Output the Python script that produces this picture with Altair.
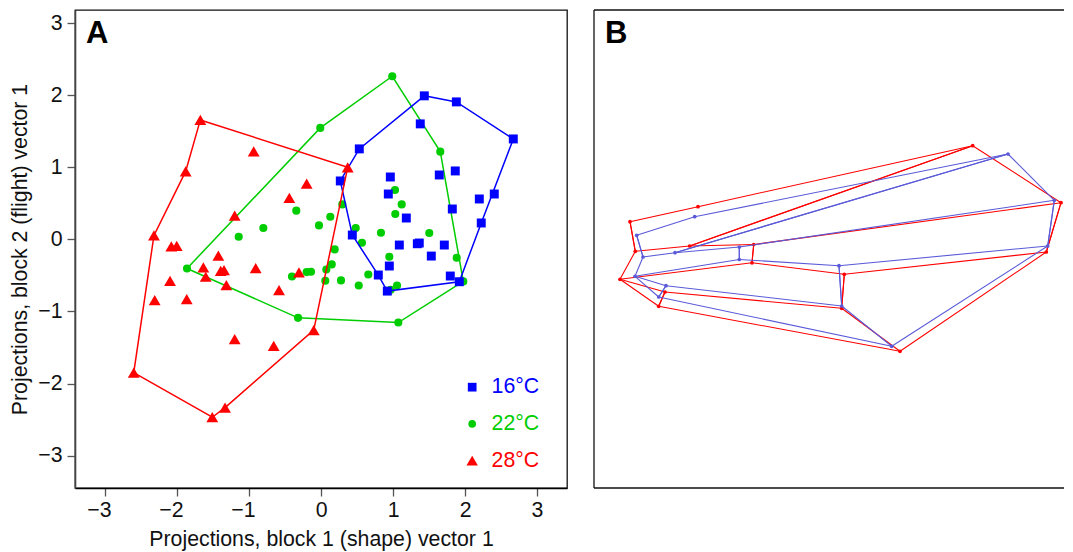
import altair as alt
import pandas as pd

FONT = "Liberation Sans"
BLUE, GREEN, RED = "#0000ff", "#00cd00", "#ff0000"
WING_BLUE = "#5a5ad8"

# ---- Panel A: projections per temperature ----
blue_x = [1.435, 1.88, 2.671, 1.379, 0.532, 0.963, 1.865, 1.643, 0.268, 0.935, 2.407, 2.199, 1.185, 1.824, 2.226,
          0.435, 1.088, 1.365, 1.338, 1.713, 1.532, 0.949, 0.796, 1.796, 1.921, 0.921]
blue_y = [1.992, 1.908, 1.394, 1.603, 1.256, 0.866, 0.95, 0.894, 0.811, 0.63, 0.63, 0.561, 0.297, 0.422, 0.228,
          0.061, -0.078, -0.05, -0.06, -0.078, -0.231, -0.369, -0.494, -0.508, -0.587, -0.717]
blue_hull_x = [1.435, 1.88, 2.671, 2.226, 1.921, 0.921, 0.796, 0.435, 0.268, 0.532, 1.435]
blue_hull_y = [1.992, 1.908, 1.394, 0.228, -0.587, -0.717, -0.494, 0.061, 0.811, 1.256, 1.992]

green_x = [0.99, -0.01, 1.657, 1.028, 1.121, 0.296, 1.032, 0.129, -0.028, 0.482, 0.833, 1.504, 0.569, 0.19, 0.949,
           1.885, 0.149, 0.074, -0.199, -0.139, 0.06, 0.278, 0.657, 0.524, 1.056, 0.968, 1.976, 1.074, -0.343,
           -0.801, -1.143, -1.861, -0.403, -0.319]
green_y = [2.264, 1.547, 1.218, 0.686, 0.486, 0.486, 0.353, 0.315, 0.194, 0.158, 0.093, 0.089, -0.046, -0.139, -0.24,
           -0.254, -0.347, -0.417, -0.453, -0.449, -0.574, -0.569, -0.486, -0.639, -0.639, -0.699, -0.583, -1.153,
           0.399, 0.158, 0.037, -0.403, -0.514, -1.088]
green_hull_x = [-1.861, -0.01, 0.99, 1.657, 1.976, 1.074, -0.319, -1.861]
green_hull_y = [-0.403, 1.547, 2.264, 1.218, -0.583, -1.153, -1.088, -0.403]

red_x = [-1.676, -1.88, -0.935, -0.199, -0.44, -1.199, -2.32, -2.079, -2.004, -1.426, -1.634, -1.393, -1.347, -1.601,
         -0.907, -0.306, -1.315, -2.097, -0.583, -2.31, -1.865, -0.101, -1.199, -0.657, -2.601, -1.333, -1.51, 0.371]
red_y = [1.658, 0.944, 1.222, 0.774, 0.575, 0.329, 0.056, -0.097, -0.088, -0.226, -0.389, -0.435, -0.425, -0.518,
         -0.397, -0.458, -0.633, -0.574, -0.703, -0.842, -0.828, -1.258, -1.383, -1.476, -1.847, -2.333, -2.467, 1.0]
red_hull_x = [-1.676, 0.371, -0.101, -1.333, -1.51, -2.601, -2.32, -1.88, -1.676]
red_hull_y = [1.658, 1.0, -1.258, -2.333, -2.467, -1.847, 0.056, 0.944, 1.658]

legend_labels = ["16°C", "22°C", "28°C"]
legend_y = [-2.05, -2.56, -3.07]
legend_marker_x = 2.1
legend_text_x = 3.03
tick_values = [-3, -2, -1, 0, 1, 2, 3]

# ---- Panel B: wing landmarks (panel units) ----
red_lm_x = [36, 104, 378.7, 467, 452.3, 306, 64.7, 26, 41.3, 95.7, 159.7, 158, 250.3, 247.7, 71]
red_lm_y = [266.3, 281.3, 342.3, 285.3, 236, 136.7, 181.7, 208.7, 236.7, 242, 243.5, 225.2, 213.7, 179.7, 196]
blue_lm_x = [42.7, 100.7, 414, 460.3, 453.7, 297.7, 64.7, 41, 49, 81, 145.3, 145.3, 245, 247.7, 72]
blue_lm_y = [252.7, 271.3, 334, 287.7, 242, 141.7, 191, 211.7, 231, 235.3, 241, 228.5, 222.3, 182, 202.3]
edges = [(0, 1), (1, 2), (2, 3), (3, 4), (4, 5), (5, 6), (6, 7), (7, 8), (8, 0),
         (2, 9), (2, 9), (8, 9), (9, 10), (10, 3), (7, 11), (11, 12), (12, 4),
         (7, 14), (14, 13), (13, 5), (10, 11), (10, 11), (12, 13), (12, 13),
         (14, 6), (14, 6), (0, 8), (3, 4)]

W_A, H, W_B = 492, 478, 470
TEXT_SIZE = 21.3
x_a = alt.Scale(domain=[-3.417, 3.417], nice=False, zero=False)
y_a = alt.Scale(domain=[-3.449, 3.183], nice=False, zero=False)
x_b = alt.Scale(domain=[0, W_B], nice=False, zero=False)
y_b = alt.Scale(domain=[0, H], nice=False, zero=False)

axis_x = alt.Axis(values=tick_values, format="d", grid=False, title="Projections, block 1 (shape) vector 1",
                  tickSize=8, tickWidth=1.3, tickColor="#555555", domainColor="#000000", domainWidth=1.3,
                  labelFont=FONT, labelFontSize=TEXT_SIZE, labelColor="#111111", labelAlign="right", labelOffset=6, labelPadding=3,
                  titleFont=FONT, titleFontSize=TEXT_SIZE, titleFontWeight="normal", titleColor="#111111", titlePadding=8)
axis_y = alt.Axis(values=tick_values, format="d", grid=False, title="Projections, block 2 (flight) vector 1",
                  tickSize=8, tickWidth=1.3, tickColor="#555555", domainColor="#444444", domainWidth=1.6,
                  labelFont=FONT, labelFontSize=TEXT_SIZE, labelColor="#111111", labelPadding=5,
                  titleFont=FONT, titleFontSize=TEXT_SIZE, titleFontWeight="normal", titleColor="#111111", titlePadding=7)


def series(xs, ys, hx, hy, color, shape, size):
    hull = pd.DataFrame({"x": hx, "y": hy, "i": range(len(hx))})
    pts = pd.DataFrame({"x": xs, "y": ys})
    line = alt.Chart(hull).mark_line(color=color, strokeWidth=1.5).encode(
        x=alt.X("x:Q", scale=x_a, axis=axis_x), y=alt.Y("y:Q", scale=y_a, axis=axis_y),
        order="i:Q")
    point = alt.Chart(pts).mark_point(shape=shape, size=size, filled=True, color=color, opacity=1, strokeWidth=0).encode(
        x=alt.X("x:Q", scale=x_a, axis=axis_x), y=alt.Y("y:Q", scale=y_a, axis=axis_y))
    return line + point


legend_df = pd.DataFrame({"label": legend_labels, "y": legend_y, "mx": legend_marker_x, "tx": legend_text_x})
colors = [BLUE, GREEN, RED]
shapes = ["square", "circle", "triangle-up"]
sizes = [76, 58, 130]
legend_layers = []
for lab, col, sh, sz in zip(legend_labels, colors, shapes, sizes):
    d = legend_df[legend_df.label == lab]
    legend_layers.append(alt.Chart(d).mark_point(shape=sh, size=sz, filled=True, color=col, opacity=1, strokeWidth=0).encode(
        x=alt.X("mx:Q", scale=x_a, axis=axis_x), y=alt.Y("y:Q", scale=y_a, axis=axis_y)))
    legend_layers.append(alt.Chart(d).mark_text(font=FONT, fontSize=TEXT_SIZE, color=col, align="right", baseline="middle").encode(
        x=alt.X("tx:Q", scale=x_a, axis=axis_x), y=alt.Y("y:Q", scale=y_a, axis=axis_y), text="label:N"))


def letter(txt):
    return alt.Chart(pd.DataFrame({"t": [txt]})).mark_text(
        font=FONT, fontSize=31, fontWeight="bold", color="black", align="left", baseline="alphabetic").encode(
        x=alt.value(11), y=alt.value(33), text="t:N")


frame_color = "#111111"
frame_df = pd.DataFrame({"e": ["left"]})


def frame():
    left = alt.Chart(frame_df).mark_rule(color=frame_color, strokeWidth=1.3).encode(
        x=alt.value(0), y=alt.value(0), y2=alt.value(H))
    top = alt.Chart(frame_df).mark_rule(color=frame_color, strokeWidth=1.3).encode(
        x=alt.value(0), x2=alt.value(W_B), y=alt.value(0))
    bottom = alt.Chart(frame_df).mark_rule(color=frame_color, strokeWidth=1.3).encode(
        x=alt.value(0), x2=alt.value(W_B), y=alt.value(H))
    return left + top + bottom


panel_a = alt.layer(
    series(green_x, green_y, green_hull_x, green_hull_y, GREEN, "circle", 66),
    series(blue_x, blue_y, blue_hull_x, blue_hull_y, BLUE, "square", 80),
    series(red_x, red_y, red_hull_x, red_hull_y, RED, "triangle-up", 140),
    *legend_layers,
    letter("A"),
).properties(width=W_A, height=H, view=alt.ViewBackground(stroke="#111111", strokeWidth=1.3))


def wing(lx, ly, color):
    rows = []
    for k, (a, b) in enumerate(edges):
        rows.append({"e": k, "i": 0, "x": lx[a], "y": ly[a]})
        rows.append({"e": k, "i": 1, "x": lx[b], "y": ly[b]})
    line = alt.Chart(pd.DataFrame(rows)).mark_line(color=color, strokeWidth=1.1).encode(
        x=alt.X("x:Q", scale=x_b, axis=None), y=alt.Y("y:Q", scale=y_b, axis=None),
        detail="e:N", order="i:Q")
    pts = alt.Chart(pd.DataFrame({"x": lx, "y": ly})).mark_point(
        shape="circle", size=14, filled=True, color=color, opacity=1, strokeWidth=0).encode(
        x=alt.X("x:Q", scale=x_b, axis=None), y=alt.Y("y:Q", scale=y_b, axis=None))
    return line + pts


panel_b = alt.layer(
    frame(),
    wing(red_lm_x, red_lm_y, RED),
    wing(blue_lm_x, blue_lm_y, WING_BLUE),
    letter("B"),
).properties(width=W_B, height=H, view=alt.ViewBackground(stroke=None))

chart = alt.hconcat(panel_a, panel_b, spacing=25).properties(
    padding={"left": 1, "top": 1, "right": 0, "bottom": 0},
    background="white",
)

chart.save("out.html", embed_options={"renderer": "svg", "actions": False})
